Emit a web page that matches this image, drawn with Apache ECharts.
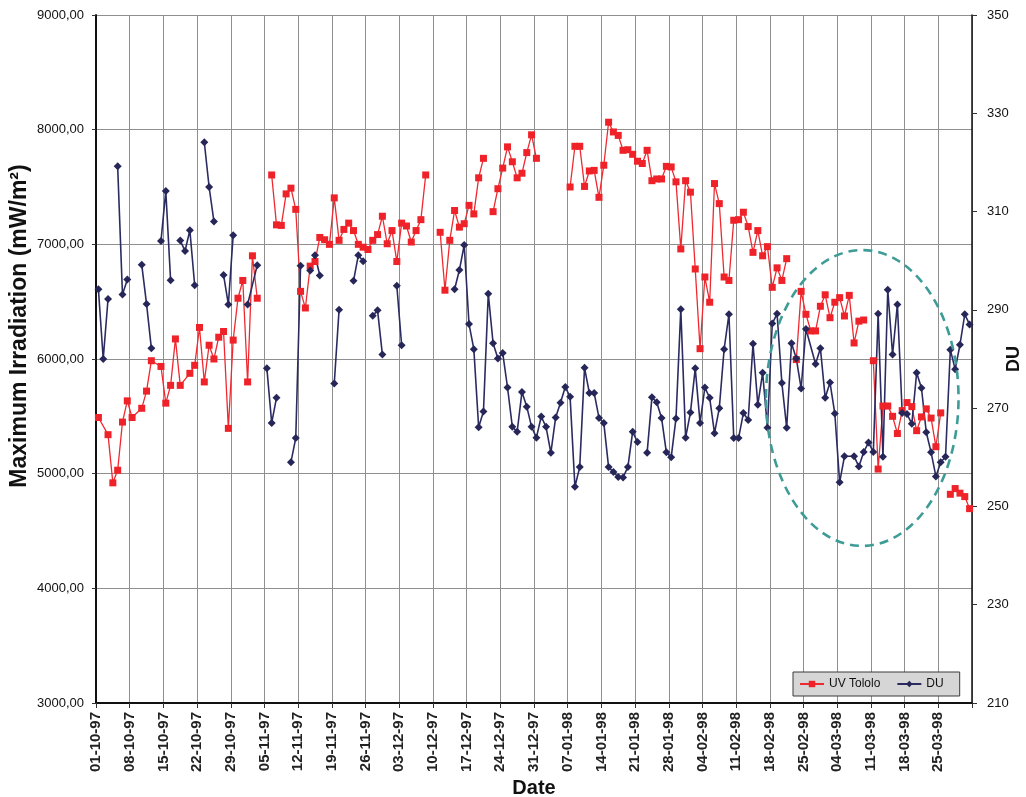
<!DOCTYPE html>
<html>
<head>
<meta charset="utf-8">
<title>UV Tololo and DU</title>
<script src="https://cdn.jsdelivr.net/npm/echarts@6/dist/echarts.min.js"></script>
<style>
  html, body { margin: 0; padding: 0; background: #ffffff; overflow: hidden; }
  #chart { width: 1026px; height: 797px; }
</style>
</head>
<body>
<div id="chart"></div>
<script>
// Weekly tick labels along the date axis (every 7 days from 01-10-97)
const weekLabels = [
  '01-10-97', '08-10-97', '15-10-97', '22-10-97', '29-10-97', '05-11-97',
  '12-11-97', '19-11-97', '26-11-97', '03-12-97', '10-12-97', '17-12-97',
  '24-12-97', '31-12-97', '07-01-98', '14-01-98', '21-01-98', '28-01-98',
  '04-02-98', '11-02-98', '18-02-98', '25-02-98', '04-03-98', '11-03-98',
  '18-03-98', '25-03-98'
];

// UV Tololo: [day since 01-10-97, maximum irradiation mW/m2]; null = blank day (line gap)
const uvTololo = [
  [0, 5490], [2, 5340], [3, 4920], [4, 5030], [5, 5450], [6, 5635], [7, 5490],
  [9, 5570], [10, 5720], [11, 5985], [13, 5935], [14, 5615], [15, 5770], [16, 6175],
  [17, 5770], [19, 5875], [20, 5945], [21, 6275], [22, 5800], [23, 6120], [24, 6000],
  [25, 6190], [26, 6240], [27, 5395], [28, 6165], [29, 6530], [30, 6685], [31, 5800],
  [32, 6900], [33, 6530], [34, null],
  [36, 7605], [37, 7170], [38, 7165], [39, 7440], [40, 7490], [41, 7305], [42, 6590],
  [43, 6445], [44, 6810], [45, 6850], [46, 7060], [47, 7040], [48, 7000], [49, 7405],
  [50, 7035], [51, 7130], [52, 7185], [53, 7120], [54, 7000], [55, 6975], [56, 6955],
  [57, 7035], [58, 7085], [59, 7245], [60, 7005], [61, 7120], [62, 6850], [63, 7185],
  [64, 7160], [65, 7020], [66, 7120], [67, 7215], [68, 7605], [69, null],
  [71, 7105], [72, 6600], [73, 7035], [74, 7295], [75, 7150], [76, 7180], [77, 7340],
  [78, 7265], [79, 7580], [80, 7750], [81, null],
  [82, 7285], [83, 7485], [84, 7665], [85, 7850], [86, 7720], [87, 7580], [88, 7620],
  [89, 7800], [90, 7955], [91, 7750], [92, null],
  [98, 7500], [99, 7855], [100, 7855], [101, 7505], [102, 7640], [103, 7645], [104, 7410],
  [105, 7690], [106, 8065], [107, 7980], [108, 7950], [109, 7820], [110, 7825], [111, 7785],
  [112, 7725], [113, 7705], [114, 7820], [115, 7555], [116, 7570], [117, 7570], [118, 7680],
  [119, 7675], [120, 7545], [121, 6960], [122, 7555], [123, 7455], [124, 6785], [125, 6090],
  [126, 6715], [127, 6495], [128, 7530], [129, 7355], [130, 6715], [131, 6685], [132, 7210],
  [133, 7215], [134, 7280], [135, 7155], [136, 6930], [137, 7120], [138, 6900], [139, 6980],
  [140, 6625], [141, 6795], [142, 6685], [143, 6875], [144, null],
  [145, 5995], [146, 6590], [147, 6390], [148, 6245], [149, 6245], [150, 6460], [151, 6560],
  [152, 6360], [153, 6495], [154, 6535], [155, 6375], [156, 6555], [157, 6140], [158, 6330],
  [159, 6340], [160, null],
  [161, 5985], [162, 5040], [163, 5590], [164, 5590], [165, 5500], [166, 5350], [167, 5550],
  [168, 5620], [169, 5585], [170, 5375], [171, 5495], [172, 5565], [173, 5485], [174, 5235],
  [175, 5530], [176, null],
  [177, 4820], [178, 4870], [179, 4830], [180, 4800], [181, 4695]
];

// Total ozone column: [day since 01-10-97, DU]; null = blank day (line gap)
const ozoneDU = [
  [0, 294.2], [1, 280.0], [2, 292.2], [3, null],
  [4, 319.2], [5, 293.1], [6, 296.2], [7, null],
  [9, 299.2], [10, 291.2], [11, 282.2], [12, null],
  [13, 304.0], [14, 314.2], [15, 296.0], [16, null],
  [17, 304.1], [18, 302.0], [19, 306.2], [20, 295.0], [21, null],
  [22, 324.1], [23, 315.0], [24, 308.0], [25, null],
  [26, 297.1], [27, 291.1], [28, 305.2], [29, null],
  [31, 291.1], [33, 299.1], [34, null],
  [35, 278.1], [36, 267.0], [37, 272.1], [38, null],
  [40, 259.0], [41, 263.9], [42, 299.0], [43, null],
  [44, 298.0], [45, 301.1], [46, 297.0], [47, null],
  [49, 275.0], [50, 290.0], [51, null],
  [53, 295.9], [54, 301.1], [55, 299.9], [56, null],
  [57, 288.8], [58, 289.9], [59, 280.9], [60, null],
  [62, 294.9], [63, 282.8], [64, null],
  [74, 294.2], [75, 298.1], [76, 303.2], [77, 287.1], [78, 282.0], [79, 266.1], [80, 269.3],
  [81, 293.3], [82, 283.2], [83, 280.1], [84, 281.2], [85, 274.2], [86, 266.2], [87, 265.2],
  [88, 273.3], [89, 270.3], [90, 266.2], [91, 264.0], [92, 268.3], [93, 266.2], [94, 260.9],
  [95, 268.1], [96, 271.1], [97, 274.3], [98, 272.3], [99, 254.0], [100, 258.0], [101, 278.2],
  [102, 273.1], [103, 273.1], [104, 268.0], [105, 267.0], [106, 258.0], [107, 257.0], [108, 256.0],
  [109, 255.9], [110, 258.0], [111, 265.2], [112, 263.1], [113, null],
  [114, 260.9], [115, 272.2], [116, 271.2], [117, 268.0], [118, 261.0], [119, 260.0], [120, 267.9],
  [121, 290.1], [122, 264.0], [123, 269.1], [124, 278.1], [125, 267.0], [126, 274.2], [127, 272.1],
  [128, 264.9], [129, 270.0], [130, 282.0], [131, 289.1], [132, 263.9], [133, 263.9], [134, 269.0],
  [135, 267.6], [136, 283.1], [137, 270.7], [138, 277.2], [139, 266.0], [140, 287.2], [141, 289.2],
  [142, 275.1], [143, 266.0], [144, 283.2], [145, 280.1], [146, 274.0], [147, 286.1], [149, 279.0],
  [150, 282.2], [151, 272.1], [152, 275.2], [153, 268.9], [154, 254.9], [155, 260.2], [157, 260.2],
  [158, 258.1], [159, 261.1], [160, 263.0], [161, 261.1], [162, 289.2], [163, 260.1], [164, 294.1],
  [165, 280.9], [166, 291.1], [167, 269.0], [168, 268.8], [169, 266.8], [170, 277.2], [171, 274.1],
  [172, 265.1], [173, 261.0], [174, 256.1], [175, 259.0], [176, 260.1], [177, 281.9], [178, 277.9],
  [179, 282.9], [180, 289.1], [181, 287.0]
];

// Each daily value sits in the middle of its day slot; blanks become '-' so the line breaks there
function toSeriesData(rows) {
  return rows.map(function (r) { return [r[0] + 0.5, r[1] == null ? '-' : r[1]]; });
}

const FONT = '"Liberation Sans", Arial, Helvetica, sans-serif';
const GRID_COLOR = '#8f8f8f';

const chart = echarts.init(document.getElementById('chart'), null, {
  renderer: 'canvas', width: 1026, height: 797
});

chart.setOption({
  animation: false,
  backgroundColor: '#ffffff',
  textStyle: { fontFamily: FONT, color: '#111' },
  grid: {
    left: 96, right: 54, top: 15, bottom: 94,
    containLabel: false,
    outerBoundsMode: 'none'
  },
  legend: {
    left: 793,
    top: 672,
    orient: 'horizontal',
    backgroundColor: '#d6d6d6',
    borderColor: '#3a3a3a',
    borderWidth: 1,
    padding: [6, 16, 6, 6],
    itemGap: 16,
    itemWidth: 24,
    itemHeight: 8,
    textStyle: { fontSize: 12, color: '#111', fontFamily: FONT },
    data: ['UV Tololo', 'DU']
  },
  xAxis: {
    type: 'value',
    min: 0,
    max: 182,
    interval: 7,
    name: 'Date',
    nameLocation: 'middle',
    nameGap: 75,
    nameMoveOverlap: false,
    nameTextStyle: { fontSize: 20, fontWeight: 'bold', color: '#111', fontFamily: FONT },
    axisLine: { show: true, onZero: false, lineStyle: { color: '#111', width: 2 } },
    axisTick: { show: true, length: 5, lineStyle: { color: '#333' } },
    axisLabel: {
      rotate: 90,
      fontSize: 15,
      fontWeight: 'bold',
      color: '#222',
      margin: 9,
      formatter: function (v) {
        const i = Math.round(v / 7);
        return weekLabels[i] || '';
      }
    },
    splitLine: { show: true, lineStyle: { color: GRID_COLOR, width: 1 } }
  },
  yAxis: [
    {
      type: 'value',
      position: 'left',
      min: 3000,
      max: 9000,
      interval: 1000,
      name: 'Maximum Irradiation (mW/m\u00B2)',
      nameLocation: 'middle',
      nameRotate: 90,
      nameGap: 65,
      nameMoveOverlap: false,
      nameTextStyle: {
        fontSize: 23, fontWeight: 'bold', color: '#111', fontFamily: FONT,
        padding: [0, 0, 0, 66]
      },
      axisLine: { show: true, lineStyle: { color: '#111', width: 2 } },
      axisTick: { show: true, length: 4, lineStyle: { color: '#333' } },
      axisLabel: {
        fontSize: 13,
        color: '#111',
        margin: 12,
        formatter: function (v) { return v.toFixed(2).replace('.', ','); }
      },
      splitLine: { show: true, lineStyle: { color: GRID_COLOR, width: 1 } }
    },
    {
      type: 'value',
      position: 'right',
      min: 210,
      max: 350,
      interval: 20,
      name: 'DU',
      nameLocation: 'middle',
      nameRotate: 90,
      nameGap: 33,
      nameMoveOverlap: false,
      nameTextStyle: { fontSize: 18, fontWeight: 'bold', color: '#111', fontFamily: FONT },
      axisLine: { show: true, lineStyle: { color: '#111', width: 1.5 } },
      axisTick: { show: true, length: 5, lineStyle: { color: '#333' } },
      axisLabel: { fontSize: 13, color: '#111', margin: 15 },
      splitLine: { show: false }
    }
  ],
  series: [
    {
      name: 'UV Tololo',
      type: 'line',
      yAxisIndex: 0,
      data: toSeriesData(uvTololo),
      connectNulls: false,
      symbol: 'rect',
      symbolSize: 7,
      showAllSymbol: true,
      lineStyle: { color: '#ee2a30', width: 1.3 },
      itemStyle: { color: '#ee2228', borderColor: '#ee2228', borderWidth: 0 }
    },
    {
      name: 'DU',
      type: 'line',
      yAxisIndex: 1,
      data: toSeriesData(ozoneDU),
      connectNulls: false,
      symbol: 'diamond',
      symbolSize: 8,
      showAllSymbol: true,
      lineStyle: { color: '#2b2b62', width: 1.6 },
      itemStyle: { color: '#262658', borderColor: '#262658', borderWidth: 0 }
    }
  ]
});

// Dashed ring marking the late-summer period of low DU, placed in data units
(function drawRing() {
  const centre = chart.convertToPixel({ xAxisIndex: 0, yAxisIndex: 0 }, [159.2, 5660]);
  const edgeX = chart.convertToPixel({ xAxisIndex: 0, yAxisIndex: 0 }, [159.2 + 20, 5660]);
  const edgeY = chart.convertToPixel({ xAxisIndex: 0, yAxisIndex: 0 }, [159.2, 5660 + 1290]);
  chart.setOption({
    graphic: [{
      type: 'ellipse',
      silent: true,
      z: 100,
      shape: {
        cx: centre[0],
        cy: centre[1],
        rx: Math.abs(edgeX[0] - centre[0]),
        ry: Math.abs(centre[1] - edgeY[1])
      },
      style: { fill: null, stroke: '#3e9c97', lineWidth: 2.6, lineDash: [9, 6] }
    }]
  });
})();
</script>
</body>
</html>
